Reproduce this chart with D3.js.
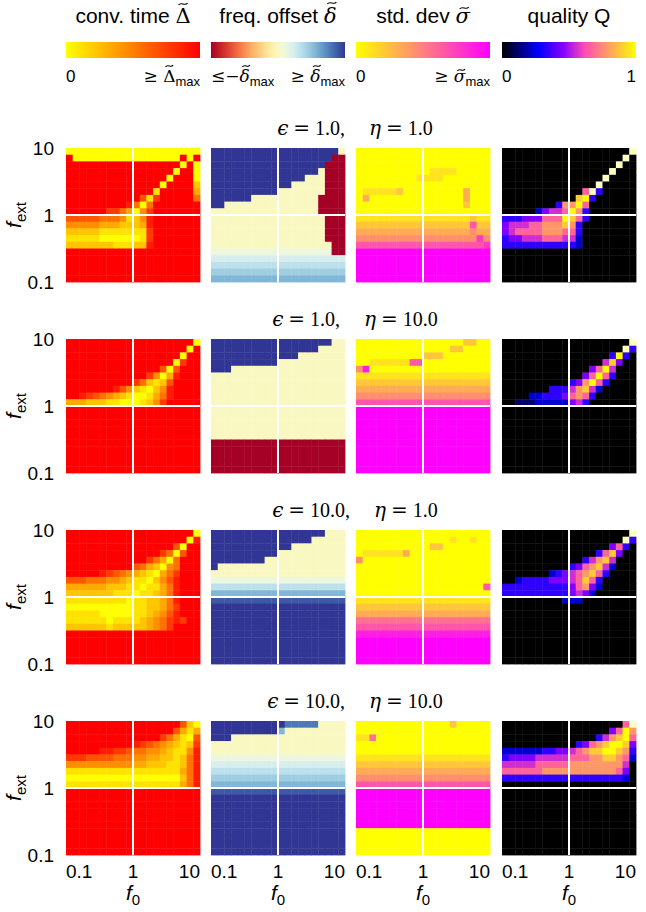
<!DOCTYPE html>
<html>
<head>
<meta charset="utf-8">
<script src="https://cdnjs.cloudflare.com/ajax/libs/d3/7.8.5/d3.min.js"></script>
<style>
  body { margin: 0; background: #fff; }
  text { font-family: "Liberation Sans", Arial, sans-serif; fill: #000; }
  .math { font-family: "DejaVu Serif", "Liberation Serif", serif; }
  .serif { font-family: "Liberation Serif", "DejaVu Serif", serif; }
</style>
</head>
<body>
<svg id="chart" width="646" height="912"></svg>
<script>
// ---------------- data ----------------
// each grid: 20 rows from f_ext = 10 (top) to 0.1 (bottom), 20 columns f0 = 0.1 .. 10
// digits 0-9 = fraction of the colour range (0 .. max); letters a-i = negative offsets; w = above 1
var tickValues = [0.1, 1, 10];
var tickLabels = ["0.1", "1", "10"];
var nCells = 20;
var epsValues = ["1.0", "1.0", "10.0", "10.0"];
var etaValues = ["1.0", "10.0", "1.0", "10.0"];

var convTime = [
  [ // eps 1, eta 1
    "00000000000000000000",
    "90000000000000000909",
    "99999999999999999090",
    "99999999999999990990",
    "99999999999999909990",
    "99999999999999099992",
    "99999999999991999993",
    "99999999999617999995",
    "99999999985059999999",
    "99999977530479999999",
    "66666555412489999999",
    "44444333222389999999",
    "22222111111179999999",
    "11111000000179999999",
    "22222221112289999999",
    "99999999999999999999",
    "99999999999999999999",
    "99999999999999999999",
    "99999999999999999999",
    "99999999999999999999"
  ],
  [ // eps 1, eta 10
    "99999999999999999990",
    "99999999999999999909",
    "99999999999999999099",
    "99999999999999990799",
    "99999999999999606999",
    "99999999999974038999",
    "99999999997521269999",
    "99999998642102489999",
    "99876543210013589999",
    "33322211000124799999",
    "99999999999999999999",
    "99999999999999999999",
    "99999999999999999999",
    "99999999999999999999",
    "99999999999999999999",
    "99999999999999999999",
    "99999999999999999999",
    "99999999999999999999",
    "99999999999999999999",
    "99999999999999999999"
  ],
  [ // eps 10, eta 1
    "99999999999999999990",
    "99999999999999999908",
    "99999999999999996099",
    "99999999999999750699",
    "99999999999975305999",
    "99999999996532045999",
    "99999876543210357999",
    "66655544321102468999",
    "33333322211011358999",
    "22222221110112358999",
    "11111111101122358999",
    "00000000001122357999",
    "11111000001123468999",
    "11111101111234578799",
    "22222212222234579999",
    "99999999999999999999",
    "99999999999999999999",
    "99999999999999999999",
    "99999999999999999999",
    "99999999999999999999"
  ],
  [ // eps 10, eta 10
    "99999999999999999620",
    "99999999999999996313",
    "99999999999999753106",
    "99999999998765432127",
    "99999887765544321148",
    "77766665554433221258",
    "44444444443322211258",
    "11111111111111111358",
    "00000000000000000258",
    "11111111111111111358",
    "99999999999999999999",
    "99999999999999999999",
    "99999999999999999999",
    "99999999999999999999",
    "99999999999999999999",
    "99999999999999999999",
    "99999999999999999999",
    "99999999999999999999",
    "99999999999999999999",
    "99999999999999999999"
  ]
];

var freqOffset = [
  [
    "99999999999999999990",
    "999999999999999999ii",
    "99999999999999999iii",
    "99999999999999990iii",
    "99999999999999000iii",
    "99999999999900000iii",
    "99999999990000000iii",
    "9999990000000000iiii",
    "9900000000000000iiii",
    "0000000000000000iiii",
    "00000000000000000iii",
    "00000000000000000iii",
    "00000000000000000iii",
    "00000000000000000iii",
    "000000000000000000ii",
    "111111111111111111ii",
    "22222222222222222222",
    "33333333333333333333",
    "44444444444444444444",
    "55555555555555555555"
  ],
  [
    "99999999999999999900",
    "99999999999999990000",
    "99999999999990000000",
    "99999999990000000000",
    "99900000000000000000",
    "00000000000000000000",
    "00000000000000000000",
    "00000000000000000000",
    "00000000000000000000",
    "00000000000000000000",
    "00000000000000000000",
    "00000000000000000000",
    "00000000000000000000",
    "00000000000000000000",
    "00000000000000000000",
    "iiiiiiiiiiiiiiiiiiii",
    "iiiiiiiiiiiiiiiiiiii",
    "iiiiiiiiiiiiiiiiiiii",
    "iiiiiiiiiiiiiiiiiiii",
    "iiiiiiiiiiiiiiiiiiii"
  ],
  [
    "99999999999999999000",
    "99999999999999900000",
    "99999999999900000000",
    "99999999990000000000",
    "99999999000000000000",
    "90000000000000000000",
    "00000000000000000000",
    "11111111111111111111",
    "33333333333333333333",
    "55555555555555555555",
    "88888888888888888888",
    "99999999999999999999",
    "99999999999999999999",
    "99999999999999999999",
    "99999999999999999999",
    "99999999999999999999",
    "99999999999999999999",
    "99999999999999999999",
    "99999999999999999999",
    "99999999999999999999"
  ],
  [
    "99999999999777770000",
    "99999999995000000000",
    "99900000000000000000",
    "00000000000000000000",
    "00000000000000000000",
    "11111111111111111111",
    "22222222222222222222",
    "33333333333333333333",
    "44444444444444444444",
    "55555555555555555555",
    "88888888888888888888",
    "99999999999999999999",
    "99999999999999999999",
    "99999999999999999999",
    "99999999999999999999",
    "99999999999999999999",
    "99999999999999999999",
    "99999999999999999999",
    "99999999999999999999",
    "99999999999999999999"
  ]
];

var stdDev = [
  [
    "00000000000000000000",
    "00000000000000000000",
    "00000000000000000000",
    "00000000000111100000",
    "00000000011110000000",
    "00000000000000000000",
    "01111120000000003000",
    "03000000000000003000",
    "00000000000000002000",
    "00000000000000000000",
    "11111111111111111211",
    "22222222222222222622",
    "33333333333333333433",
    "44444444444444444474",
    "66666666666666666667",
    "99999999999999999999",
    "99999999999999999999",
    "99999999999999999999",
    "99999999999999999999",
    "99999999999999999999"
  ],
  [
    "00000000000000002200",
    "00000000000000220000",
    "00000000002220000000",
    "00111111660000000000",
    "48000000000000000000",
    "11111111111111111111",
    "22222222222222222222",
    "33333333333333333333",
    "44444444444444444444",
    "66666666666666666666",
    "99999999999999999999",
    "99999999999999999999",
    "99999999999999999999",
    "99999999999999999999",
    "99999999999999999999",
    "99999999999999999999",
    "99999999999999999999",
    "99999999999999999999",
    "99999999999999999999",
    "99999999999999999999"
  ],
  [
    "00000000000000000000",
    "00000000000000100100",
    "00000000000220000000",
    "01111113000000000000",
    "40000000000000000000",
    "00000000000000000000",
    "00000000000000000000",
    "00000000000000000000",
    "00000000000000000006",
    "00000000000000000000",
    "11111111111111111111",
    "22222222222222222222",
    "33333333333333333333",
    "55555555555555555555",
    "66666666666666666666",
    "88888888888888888888",
    "99999999999999999999",
    "99999999999999999999",
    "99999999999999999999",
    "99999999999999999999"
  ],
  [
    "00000000000000200000",
    "00000000000000000000",
    "11500000000000000000",
    "00000000000000000000",
    "00000000000000000000",
    "11111111111111111111",
    "22222222222222222222",
    "33333333333333333333",
    "44444444444444444444",
    "66666666666666666666",
    "99999999999999999999",
    "99999999999999999999",
    "99999999999999999999",
    "99999999999999999999",
    "99999999999999999999",
    "99999999999999999999",
    "00000000000000000000",
    "00000000000000000000",
    "00000000000000000000",
    "00000000000000000000"
  ]
];

var quality = [
  [
    "0000000000000000000w",
    "000000000000000000w0",
    "00000000000000000w00",
    "0000000000000000w000",
    "000000000000000w0000",
    "00000000000000w00000",
    "0000000000006w300000",
    "00000000000893000000",
    "00000000377960000000",
    "00000245569730000000",
    "33344466698630000000",
    "45556677787300000000",
    "45666677766300000000",
    "34455566655200000000",
    "33333333333200000000",
    "00000000000000000000",
    "00000000000000000000",
    "00000000000000000000",
    "00000000000000000000",
    "00000000000000000000"
  ],
  [
    "0000000000000000000w",
    "000000000000000000w3",
    "00000000000000003930",
    "00000000000000058400",
    "00000000000004695000",
    "00000000000046963000",
    "00000000003479630000",
    "00000003335785200000",
    "00002233346763000000",
    "00111222224530000000",
    "00000000000000000000",
    "00000000000000000000",
    "00000000000000000000",
    "00000000000000000000",
    "00000000000000000000",
    "00000000000000000000",
    "00000000000000000000",
    "00000000000000000000",
    "00000000000000000000",
    "00000000000000000000"
  ],
  [
    "0000000000000000000w",
    "000000000000000000w3",
    "00000000000000004630",
    "00000000000000368400",
    "00000000000035785000",
    "00000000003467852000",
    "00000002345678630000",
    "00233334445686300000",
    "33333333334674200000",
    "33333333334542000000",
    "00000000022200000000",
    "00000000000000000000",
    "00000000000000000000",
    "00000000000000000000",
    "00000000000000000000",
    "00000000000000000000",
    "00000000000000000000",
    "00000000000000000000",
    "00000000000000000000",
    "00000000000000000000"
  ],
  [
    "0000000000000000006w",
    "00000000000000004697",
    "00000000000000357896",
    "00000000000346789984",
    "22222233445678899873",
    "34444555556667788762",
    "55555666667777777750",
    "66666677777777777640",
    "33333333333333333320",
    "00000000000000000000",
    "00000000000000000000",
    "00000000000000000000",
    "00000000000000000000",
    "00000000000000000000",
    "00000000000000000000",
    "00000000000000000000",
    "00000000000000000000",
    "00000000000000000000",
    "00000000000000000000",
    "00000000000000000000"
  ]
];

// ---------------- colour maps ----------------
function clamp(v, lo, hi) { return Math.max(lo, Math.min(hi, v)); }
function autumnR(t) { t = clamp(t, 0, 1); return d3.rgb(255, 255 * (1 - t), 0) + ""; }
function springR(t) { t = clamp(t, 0, 1); return d3.rgb(255, 255 * (1 - t), 255 * t) + ""; }
function gnuplot2(x) {
  x = clamp(x, 0, 1);
  var r = clamp(x / 0.32 - 0.78125, 0, 1);
  var g = clamp(2 * x - 0.84, 0, 1);
  var b = x < 0.25 ? 4 * x : (x < 0.92 ? -2 * x + 1.84 : x / 0.08 - 11.5);
  b = clamp(b, 0, 1);
  return d3.rgb(255 * r, 255 * g, 255 * b) + "";
}
var colorFns = [
  function(v) { return autumnR(v); },
  function(v) { return d3.interpolateRdYlBu(0.5 + clamp(v, -1, 1) / 2); },
  function(v) { return springR(v); },
  function(v) { return gnuplot2(0.92 * v); }
];
function decode(ch) {
  if (ch === "w") return 1.065;
  var code = ch.charCodeAt(0);
  if (code >= 97 && code <= 105) return -(code - 96) / 9;
  return (+ch) / 9;
}

// ---------------- layout ----------------
var colX = [66, 211, 356, 502];
var rowY = [148, 339, 530, 721];
var S = 134;
var grids = [convTime, freqOffset, stdDev, quality];

var svg = d3.select("#chart");
svg.append("rect").attr("width", 646).attr("height", 912).attr("fill", "#fff");

var xScale = d3.scaleLog().domain([0.1, 10]).range([0, S]);
var yScale = d3.scaleLog().domain([0.1, 10]).range([S, 0]);
function edge(k) { return Math.pow(10, -1 + 2 * k / nCells); }

// small tilde drawn over a glyph (tspan)
function addTilde(tspan, lift, w, italic) {
  var ext = tspan.node().getExtentOfChar(0);
  var base = +d3.select(tspan.node().parentNode).attr("y");
  var cx = ext.x + ext.width / 2 + (italic ? 1.5 : 0);
  var cy = base - lift;
  var h = w / 2;
  svg.append("path")
    .attr("d", "M" + (cx - h) + "," + (cy + 1) + " C" + (cx - h / 2) + "," + (cy - 2.6) + " " +
      (cx + h / 2) + "," + (cy + 2.6) + " " + (cx + h) + "," + (cy - 1))
    .attr("fill", "none").attr("stroke", "#000").attr("stroke-width", 1.2);
}

// column headers
var headers = [
  [["conv. time ", ""], ["\u0394", "math", 19]],
  [["freq. offset ", ""], ["\u03B4", "math it", 20]],
  [["std. dev ", ""], ["\u03C3", "math it", 15]],
  [["quality Q", ""]]
];
headers.forEach(function(parts, c) {
  var t = svg.append("text")
    .attr("x", colX[c] + S / 2).attr("y", 23)
    .attr("text-anchor", "middle").attr("font-size", 21)
    .style("white-space", "pre");
  parts.forEach(function(p) {
    var ts = t.append("tspan").text(p[0]);
    if (p[1].indexOf("math") >= 0) ts.attr("class", "math");
    if (p[1].indexOf("it") >= 0) ts.attr("font-style", "italic");
    if (p[2]) ts.attr("data-tilde", p[2]);
  });
  t.selectAll("tspan[data-tilde]").each(function() {
    var ts = d3.select(this);
    addTilde(ts, +ts.attr("data-tilde"), 9, ts.attr("font-style") === "italic");
  });
});

// colour bars
var defs = svg.append("defs");
var barFns = [
  function(t) { return colorFns[0](t); },
  function(t) { return colorFns[1](2 * t - 1); },
  function(t) { return colorFns[2](t); },
  function(t) { return colorFns[3](t); }
];
barFns.forEach(function(fn, c) {
  var grad = defs.append("linearGradient").attr("id", "cb" + c)
    .attr("x1", "0%").attr("x2", "100%").attr("y1", "0%").attr("y2", "0%");
  d3.range(0, 51).forEach(function(k) {
    grad.append("stop").attr("offset", (k * 2) + "%").attr("stop-color", fn(k / 50));
  });
  svg.append("rect").attr("x", colX[c]).attr("y", 42).attr("width", S).attr("height", 16)
    .attr("fill", "url(#cb" + c + ")");
});

// colour bar labels
function mathLabel(x, anchor, pieces) {
  var t = svg.append("text").attr("x", x).attr("y", 82)
    .attr("text-anchor", anchor).attr("font-size", 17).style("white-space", "pre");
  var tild = [];
  pieces.forEach(function(p) {
    var ts = t.append("tspan").text(p.s);
    if (p.cls) ts.attr("class", p.cls);
    if (p.it) ts.attr("font-style", "italic");
    if (p.sub) ts.attr("font-size", 13).attr("dy", 4);
    if (p.tilde) tild.push([ts, p.tilde, p.it]);
  });
  tild.forEach(function(q) { addTilde(q[0], q[1], 7.5, q[2]); });
}
mathLabel(colX[0], "start", [{s: "0"}]);
mathLabel(colX[0] + S, "end", [{s: "\u2265 ", cls: "math"}, {s: "\u0394", cls: "math", tilde: 16}, {s: "max", sub: true}]);
mathLabel(colX[1], "start", [{s: "\u2264\u2212", cls: "math"}, {s: "\u03B4", cls: "math", it: true, tilde: 16}, {s: "max", sub: true}]);
mathLabel(colX[1] + S, "end", [{s: "\u2265 ", cls: "math"}, {s: "\u03B4", cls: "math", it: true, tilde: 16}, {s: "max", sub: true}]);
mathLabel(colX[2], "start", [{s: "0"}]);
mathLabel(colX[2] + S, "end", [{s: "\u2265 ", cls: "math"}, {s: "\u03C3", cls: "math", it: true, tilde: 12}, {s: "max", sub: true}]);
mathLabel(colX[3], "start", [{s: "0"}]);
mathLabel(colX[3] + S, "end", [{s: "1"}]);

// panels
rowY.forEach(function(py, r) {
  // row title
  var tt = svg.append("text").attr("class", "serif")
    .attr("x", 355).attr("y", py - 13).attr("text-anchor", "middle")
    .attr("font-size", 20);
  tt.append("tspan").attr("class", "math").attr("font-style", "italic").text("\u03F5");
  tt.append("tspan").attr("class", "math").attr("dx", 5).text("=");
  tt.append("tspan").attr("dx", 5).text(epsValues[r] + ",");
  tt.append("tspan").attr("class", "math").attr("font-style", "italic").attr("dx", 24).text("\u03B7");
  tt.append("tspan").attr("class", "math").attr("dx", 5).text("=");
  tt.append("tspan").attr("dx", 5).text(etaValues[r]);

  grids.forEach(function(gridSet, c) {
    var grid = gridSet[r];
    var cells = [];
    grid.forEach(function(row, i) {
      row.split("").forEach(function(ch, j) {
        cells.push({i: i, j: j, v: decode(ch)});
      });
    });
    var g = svg.append("g").attr("transform", "translate(" + colX[c] + "," + py + ")");
    g.selectAll("rect").data(cells).join("rect")
      .attr("x", function(d) { return xScale(edge(d.j)); })
      .attr("y", function(d) { return yScale(edge(nCells - d.i)); })
      .attr("width", function(d) { return xScale(edge(d.j + 1)) - xScale(edge(d.j)) + 0.4; })
      .attr("height", function(d) { return yScale(edge(nCells - d.i - 1)) - yScale(edge(nCells - d.i)) + 0.4; })
      .attr("fill", function(d) { return colorFns[c](d.v); });
    g.append("line").attr("x1", xScale(1)).attr("x2", xScale(1)).attr("y1", 0).attr("y2", S)
      .attr("stroke", "#fff").attr("stroke-width", 2);
    g.append("line").attr("y1", yScale(1)).attr("y2", yScale(1)).attr("x1", 0).attr("x2", S)
      .attr("stroke", "#fff").attr("stroke-width", 2);
  });

  // y axis tick labels
  tickValues.forEach(function(v, k) {
    svg.append("text").attr("x", 54).attr("y", py + yScale(v))
      .attr("text-anchor", "end").attr("dominant-baseline", "central")
      .attr("font-size", 19).text(tickLabels[k]);
  });
  // f_ext label
  var yl = svg.append("text")
    .attr("transform", "translate(21," + (py + S / 2) + ") rotate(-90)")
    .attr("text-anchor", "middle").attr("font-size", 21);
  yl.append("tspan").attr("font-style", "italic").text("f");
  yl.append("tspan").attr("font-size", 15).attr("dy", 5).text("ext");
});

// x axis labels under bottom row
var bottom = rowY[3] + S;
colX.forEach(function(px) {
  var anchors = ["start", "middle", "end"];
  tickValues.forEach(function(v, k) {
    svg.append("text").attr("x", px + xScale(v)).attr("y", bottom + 23)
      .attr("text-anchor", anchors[k]).attr("font-size", 19).text(tickLabels[k]);
  });
  var xl = svg.append("text").attr("x", px + S / 2).attr("y", bottom + 45)
    .attr("text-anchor", "middle").attr("font-size", 21);
  xl.append("tspan").attr("font-style", "italic").text("f");
  xl.append("tspan").attr("font-size", 15).attr("dy", 5).text("0");
});
</script>
</body>
</html>
